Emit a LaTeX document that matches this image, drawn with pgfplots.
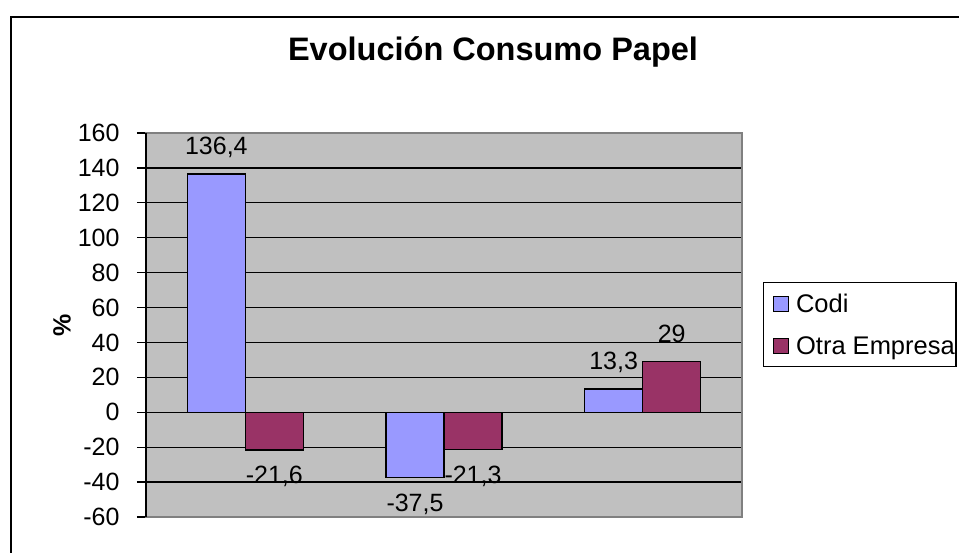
\documentclass[border=0pt]{standalone}
\usepackage{pgfplots}
\pgfplotsset{compat=1.18}
\usepackage{fontspec}
\setmainfont{Liberation Sans}
\definecolor{codi}{HTML}{9999FF}
\definecolor{otra}{HTML}{993366}
\definecolor{plotbg}{HTML}{C0C0C0}
\definecolor{bordergray}{HTML}{808080}
\newcommand{\chartfont}{\fontsize{25}{29}\selectfont}
\begin{document}
\begin{tikzpicture}[x=1pt,y=1pt]
\useasboundingbox (0,0) rectangle (959,552);
\draw[line width=2pt] (11,-10) -- (11,535) -- (975,535);
\node[font=\bfseries\fontsize{32.5}{37}\selectfont] at (493,500) {Evolución Consumo Papel};
\begin{axis}[
  at={(146pt,35pt)}, anchor=south west,
  width=596pt, height=384pt, scale only axis,
  ymin=-60, ymax=160, ytick={-60,-40,...,160},
  xmin=-0.5, xmax=2.5, xtick=\empty,
  ybar=0pt, bar width=58pt,
  axis background/.style={fill=plotbg},
  axis line style={draw=bordergray, line width=1.8pt},
  ymajorgrids, grid style={black, line width=1.3pt},
  ytick pos=left, tick align=outside, major tick length=9pt,
  tick style={black, line width=1.3pt},
  font=\chartfont,
  tick label style={font=\chartfont},
  /pgf/number format/assume math mode=true,
  /pgf/number format/use comma,
  yticklabel style={xshift=-14pt},
  nodes near coords, nodes near coords align=vertical,
  nodes near coords style={font=\chartfont, text=black, inner ysep=15pt, text height=17.9pt, text depth=3.5pt},
  ylabel={\textbf{\%}},
  ylabel style={at={(axis description cs:-0.141,0.5)}, anchor=center, font=\bfseries\chartfont},
  legend style={at={(axis description cs:1.0352,0.612)}, anchor=north west, draw=black, line width=1.5pt,
    font=\fontsize{25.5}{29}\selectfont, inner xsep=1pt, inner ysep=0pt, row sep=0pt, column sep=7pt,
    nodes={inner sep=0pt, text height=30pt, text depth=12pt}},
  legend cell align=left,
  legend image code/.code={\path (-8pt,0pt); \draw[#1, line width=1.2pt] (0pt,-7.5pt) rectangle (15pt,7.5pt);},
  after end axis/.code={\draw[black, line width=1.8pt] (rel axis cs:0,0) -- (rel axis cs:0,1);},
]
\addplot[fill=codi, draw=black, line width=1.5pt] coordinates {(0,136.4) (1,-37.5) (2,13.3)};
\addplot[fill=otra, draw=black, line width=1.5pt] coordinates {(0,-21.6) (1,-21.3) (2,29)};
\legend{Codi, Otra Empresa}
\end{axis}
\end{tikzpicture}
\end{document}
